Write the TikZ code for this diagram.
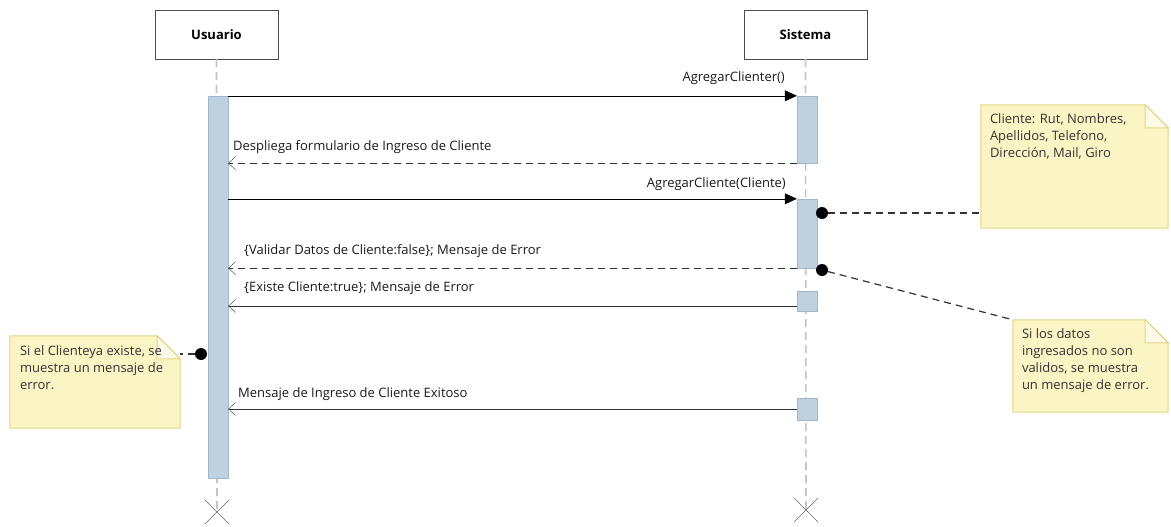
\documentclass[tikz,border=0pt]{standalone}
\usepackage{fontspec}
\setmainfont{Open Sans}
\usetikzlibrary{arrows.meta,shapes.misc}
\definecolor{actfill}{HTML}{BFD0DE}
\definecolor{actline}{HTML}{9FB8CC}
\definecolor{notefill}{HTML}{FBF5C6}
\definecolor{noteline}{HTML}{E3D487}
\definecolor{lifegray}{HTML}{C4C4C4}

\begin{document}
\begin{tikzpicture}[x=1pt,y=-1pt,font=\fontsize{13}{15}\selectfont,
  obj/.style={draw=black!70,fill=white,minimum width=123pt,minimum height=49pt,inner sep=0pt,font=\fontsize{13}{15}\selectfont\bfseries},
  lifeline/.style={draw=lifegray,line width=1.6pt,dash pattern=on 8pt off 5pt},
  act/.style={draw=actline,fill=actfill,minimum width=20pt,inner sep=0pt},
  notebox/.style={inner sep=0pt},
  notetext/.style={anchor=north west,align=left,inner sep=0pt,font=\fontsize{13}{17}\selectfont,text=black!80},
  call/.style={-{Triangle[length=12pt,width=11pt]},black},
  answer/.style={-{Straight Barb[length=7pt,width=13pt]},black!80},
  msglabel/.style={inner sep=1pt,text=black!90},
  link/.style={black!80,line width=1.2pt,dash pattern=on 7pt off 5pt},
  dot/.style={circle,fill=black,minimum size=12pt,inner sep=0pt},
  endmark/.style={cross out,draw=black!60,minimum size=24pt,inner sep=0pt}]
\useasboundingbox (0,0) rectangle (1171,527);

\node[obj] (uo) at (216.5,34.5) {Usuario};
\node[obj] (so) at (805.5,34.5) {Sistema};
\node[endmark] (ux) at (217,512) {};
\node[endmark] (sx) at (806,510) {};
\draw[lifeline] (uo.south) -- (ux.center);
\draw[lifeline] (so.south) -- (sx.center);

\node[act,minimum height=382pt] (ua) at (218,287) {};
\node[act,minimum height=67pt] (sa1) at (807,129.5) {};
\node[act,minimum height=69pt] (sa2) at (807,233.5) {};
\node[act,minimum height=20pt] (sa3) at (807,301.5) {};
\node[act,minimum height=22pt] (sa4) at (807,409) {};
\coordinate (m5) at ([yshift=-4.5pt]sa3.west);

\draw[call] (ua.east |- sa1.north) -- (sa1.north west);
\node[msglabel,anchor=east] (l1) at (786,78) {AgregarClienter()};
\draw[answer,dash pattern=on 7pt off 5pt] (sa1.south west) -- (ua.east |- sa1.south);
\node[msglabel,anchor=west] (l2) at (232,147) {Despliega formulario de Ingreso de Cliente};
\draw[call] (ua.east |- sa2.north) -- (sa2.north west);
\node[msglabel,anchor=east] (l3) at (787,184) {AgregarCliente(Cliente)};
\draw[answer,dash pattern=on 7pt off 5pt] (sa2.south west) -- (ua.east |- sa2.south);
\node[msglabel,anchor=west] (l4) at (243,251) {\{Validar Datos de Cliente:false\}; Mensaje de Error};
\draw[answer] (m5) -- (ua.east |- m5);
\node[msglabel,anchor=west] (l5) at (243,288) {\{Existe Cliente:true\}; Mensaje de Error};
\draw[answer] (sa4.west) -- (ua.east |- sa4.west);
\node[msglabel,anchor=west] (l6) at (237,394) {Mensaje de Ingreso de Cliente Exitoso};

\node[notebox,minimum width=187pt,minimum height=123pt] (n1) at (1074.5,166.5) {};
\node[notebox,minimum width=155pt,minimum height=92pt] (n2) at (1090.5,366) {};
\node[notebox,minimum width=170pt,minimum height=92pt] (n3) at (95,382) {};
\foreach \n in {n1,n2,n3} {
  \filldraw[fill=notefill,draw=noteline,line width=1pt] (\n.south west) -- (\n.north west) -- ([xshift=-23pt]\n.north east)
    -- ([yshift=-23pt]\n.north east) -- (\n.south east) -- cycle;
  \filldraw[fill=notefill!40,draw=noteline,line width=1pt] ([xshift=-23pt]\n.north east) |- ([yshift=-23pt]\n.north east) -- cycle;
}
\node[notetext] (t1) at ([xshift=9pt,yshift=-9pt]n1.north west) {Cliente: Rut, Nombres,\\Apellidos, Telefono,\\Dirección, Mail, Giro};
\node[notetext] (t2) at ([xshift=9pt,yshift=-9pt]n2.north west) {Si los datos\\ingresados no son\\validos, se muestra\\un mensaje de error.};
\node[notetext] (t3) at ([xshift=10pt,yshift=-10pt]n3.north west) {Si el Clienteya existe, se\\muestra un mensaje de\\error.};

\node[dot] (d1) at (822,213) {};
\node[dot] (d2) at (822,270) {};
\node[dot] (d3) at (201,354) {};
\draw[link] (d1) -- (n1.west |- d1);
\draw[link] (d2) -- (n2.north west);
\draw[link] (d3) -- (n3.east |- d3);
\end{tikzpicture}
\end{document}
